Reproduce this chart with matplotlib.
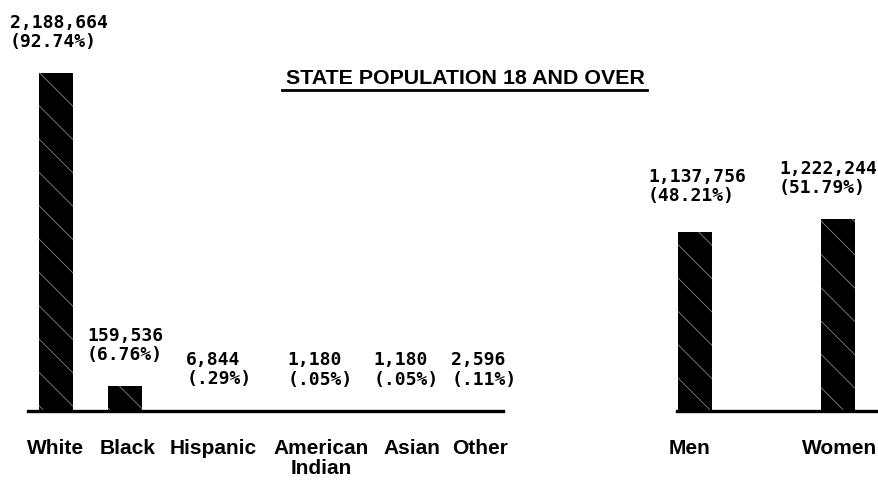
import matplotlib.pyplot as plt
import matplotlib.transforms as mtransforms
import numpy as np

plt.rcParams['font.family'] = ['Liberation Sans', 'DejaVu Sans']
plt.rcParams['hatch.color'] = '#999999'
plt.rcParams['hatch.linewidth'] = 0.5

# data
race = ["White", "Black", "Hispanic", "American\nIndian", "Asian", "Other"]
race_n = [2188664, 159536, 6844, 1180, 1180, 2596]
race_lbl = ["2,188,664\n(92.74%)", "159,536\n(6.76%)", "6,844\n(.29%)",
            "1,180\n(.05%)", "1,180\n(.05%)", "2,596\n(.11%)"]

sex = ["Men", "Women"]
sex_n = [1137756, 1222244]
sex_lbl = ["1,137,756\n(48.21%)", "1,222,244\n(51.79%)"]

# label nudges in pixels (the scanned layout is not evenly spaced)
race_lbl_dx = [3, 0, 25, 57, 74, 83]
race_tick_dx = [0, 3, 19, 58, 80, 79]
sex_lbl_dx = [2, -10]
sex_lbl_dy = [27, 22]
sex_tick_dx = [-5, 2]

fig = plt.figure(figsize=(8.79, 4.83), dpi=100)
W, H = 879, 483
BASE, TOP = 411, 60

def make_ax(x0, x1):
    a = fig.add_axes([x0 / W, (H - BASE) / H, (x1 - x0) / W, (BASE - TOP) / H])
    for s in ['left', 'right', 'top']:
        a.spines[s].set_visible(False)
    a.spines['bottom'].set_linewidth(2.4)
    a.set_yticks([])
    a.tick_params(axis='x', length=0, pad=20)
    return a

numfont = dict(fontsize=13, fontweight='bold', family=['DejaVu Sans Mono'])
catfont = dict(fontsize=15, fontweight='bold')

def shift(labels, dxs):
    for lab, dx in zip(labels, dxs):
        lab.set_transform(lab.get_transform() +
                          mtransforms.ScaledTranslation(dx / 100, 0, fig.dpi_scale_trans))

# left panel: race
ax = make_ax(28, 503)
xr = np.arange(len(race))
ax.bar(xr, race_n, width=0.5, color='black', hatch='\\')
ax.set_xlim(-28 / 69, 447 / 69)
ax.set_ylim(0, 2188664 * (BASE - TOP) / 338)
ax.set_xticks(xr, race, linespacing=1.05, **catfont)
shift(ax.get_xticklabels(), race_tick_dx)
for x, v, t, dx in zip(xr, race_n, race_lbl, race_lbl_dx):
    ax.annotate(t, (x, v), xytext=(dx, 22), textcoords='offset pixels',
                ha='center', va='bottom', multialignment='left', linespacing=1.1, **numfont)

# right panel: sex
ax2 = make_ax(677, 879)
xs = np.arange(len(sex))
ax2.bar(xs, sex_n, width=0.24, color='black', hatch='\\')
ax2.set_xlim(-18 / 143, 184 / 143)
ax2.set_ylim(0, 1222244 * (BASE - TOP) / 192)
ax2.set_xticks(xs, sex, **catfont)
shift(ax2.get_xticklabels(), sex_tick_dx)
for x, v, t, dx, dy in zip(xs, sex_n, sex_lbl, sex_lbl_dx, sex_lbl_dy):
    ax2.annotate(t, (x, v), xytext=(dx, dy), textcoords='offset pixels',
                 ha='center', va='bottom', multialignment='left', linespacing=1.1, **numfont)

# underlined title
fig.text(465 / W, 1 - 78 / H, "STATE POPULATION 18 AND OVER", ha='center', va='center',
         fontsize=15.4, fontweight='bold')
fig.add_artist(plt.Line2D([282 / W, 647 / W], [1 - 90 / H, 1 - 90 / H], color='black', lw=2))

fig.savefig("out.png", dpi=100)
